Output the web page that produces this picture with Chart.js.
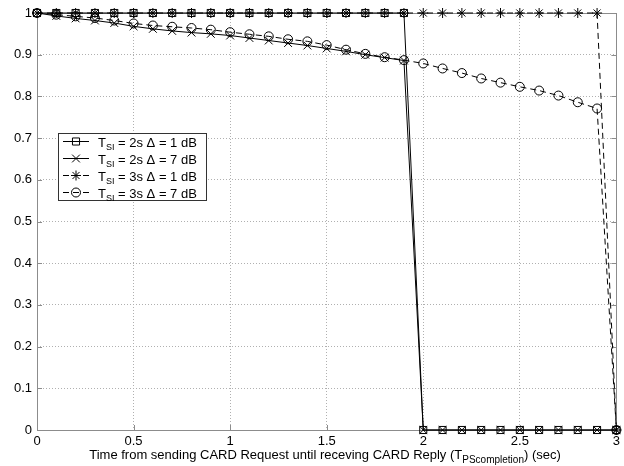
<!DOCTYPE html>
<html>
<head>
<meta charset="utf-8">
<script src="https://cdn.jsdelivr.net/npm/chart.js@4.4.0/dist/chart.umd.min.js"></script>
<style>
  html, body { margin: 0; padding: 0; background: #fff; }
  canvas { display: block; }
</style>
</head>
<body>
<canvas id="chart" width="624" height="466"></canvas>
<script>
// time axis (sec)
const timeValues = [0, 0.1, 0.2, 0.3, 0.4, 0.5, 0.6, 0.7, 0.8, 0.9, 1.0,
    1.1, 1.2, 1.3, 1.4, 1.5, 1.6, 1.7, 1.8, 1.9, 2.0,
    2.1, 2.2, 2.3, 2.4, 2.5, 2.6, 2.7, 2.8, 2.9, 3.0];

// T_SI = 2s, delta = 1 dB
const tsi2d1 = [1, 1, 1, 1, 1, 1, 1, 1, 1, 1, 1,
    1, 1, 1, 1, 1, 1, 1, 1, 1, 0,
    0, 0, 0, 0, 0, 0, 0, 0, 0, 0];

// T_SI = 2s, delta = 7 dB
const tsi2d7 = [1, 0.993, 0.987, 0.982, 0.976, 0.968, 0.962, 0.957, 0.953, 0.950, 0.946,
    0.940, 0.934, 0.928, 0.922, 0.915, 0.908, 0.900, 0.893, 0.886, 0,
    0, 0, 0, 0, 0, 0, 0, 0, 0, 0];

// T_SI = 3s, delta = 1 dB
const tsi3d1 = [1, 1, 1, 1, 1, 1, 1, 1, 1, 1, 1,
    1, 1, 1, 1, 1, 1, 1, 1, 1, 1,
    1, 1, 1, 1, 1, 1, 1, 1, 1, 0];

// T_SI = 3s, delta = 7 dB
const tsi3d7 = [1, 0.996, 0.992, 0.988, 0.982, 0.975, 0.970, 0.967, 0.964, 0.960, 0.954,
    0.949, 0.944, 0.937, 0.932, 0.923, 0.912, 0.902, 0.894, 0.887, 0.879,
    0.867, 0.856, 0.843, 0.833, 0.823, 0.814, 0.802, 0.786, 0.771, 0];

const xTicks = [0, 0.5, 1, 1.5, 2, 2.5, 3];
const yTicks = [0, 0.1, 0.2, 0.3, 0.4, 0.5, 0.6, 0.7, 0.8, 0.9, 1];

const legendLabels = [
    { sub: 'SI', text: ' = 2s \u0394 = 1 dB' },
    { sub: 'SI', text: ' = 2s \u0394 = 7 dB' },
    { sub: 'SI', text: ' = 3s \u0394 = 1 dB' },
    { sub: 'SI', text: ' = 3s \u0394 = 7 dB' }
];

const FONT = '"Liberation Sans", Arial, Helvetica, sans-serif';

function toPoints(values) {
    return values.map((v, i) => ({ x: timeValues[i], y: v }));
}

function makeSeries(label, values, style, radius, dashed) {
    return {
        label: label,
        data: toPoints(values),
        borderColor: '#000',
        backgroundColor: 'rgba(0,0,0,0)',
        borderWidth: 1,
        borderDash: dashed ? [6, 4] : [],
        pointStyle: style,
        pointRadius: radius,
        pointBorderColor: '#000',
        pointBackgroundColor: 'rgba(0,0,0,0)',
        pointBorderWidth: 1,
        tension: 0,
        clip: false
    };
}

// box, inner tick marks (matlab style)
const framePlugin = {
    id: 'frame',
    beforeDatasetsDraw(chart) {
        const ctx = chart.ctx;
        const a = chart.chartArea;
        const xs = chart.scales.x;
        const ys = chart.scales.y;
        ctx.save();
        ctx.strokeStyle = '#8c8c8c';
        ctx.lineWidth = 1;
        ctx.setLineDash([]);
        ctx.strokeRect(Math.round(a.left) + 0.5, Math.round(a.top) + 0.5,
            Math.round(a.right - a.left), Math.round(a.bottom - a.top));
        ctx.beginPath();
        xTicks.forEach(t => {
            const px = Math.round(xs.getPixelForValue(t)) + 0.5;
            ctx.moveTo(px, a.bottom); ctx.lineTo(px, a.bottom - 5);
            ctx.moveTo(px, a.top); ctx.lineTo(px, a.top + 5);
        });
        yTicks.forEach(t => {
            const py = Math.round(ys.getPixelForValue(t)) + 0.5;
            ctx.moveTo(a.left, py); ctx.lineTo(a.left + 5, py);
            ctx.moveTo(a.right, py); ctx.lineTo(a.right - 5, py);
        });
        ctx.stroke();
        ctx.restore();
    },
    afterDraw(chart) {
        const ctx = chart.ctx;
        ctx.save();

        // legend
        const bx = 58, by = 133, bw = 148, bh = 67;
        ctx.fillStyle = '#fff';
        ctx.fillRect(bx, by, bw, bh);
        ctx.strokeStyle = '#333';
        ctx.lineWidth = 1;
        ctx.strokeRect(bx + 0.5, by + 0.5, bw, bh);

        chart.data.datasets.forEach((ds, i) => {
            const y = by + 8.5 + i * 17;
            ctx.strokeStyle = '#000';
            ctx.lineWidth = 1;
            ctx.setLineDash(ds.borderDash);
            ctx.beginPath();
            ctx.moveTo(63, y);
            ctx.lineTo(89, y);
            ctx.stroke();
            ctx.setLineDash([]);
            ctx.fillStyle = 'rgba(0,0,0,0)';
            Chart.helpers.drawPoint(ctx, {
                pointStyle: ds.pointStyle,
                radius: ds.pointRadius,
                borderWidth: 1,
                rotation: 0
            }, 76, y);

            const lab = legendLabels[i];
            let tx = 98;
            ctx.fillStyle = '#000';
            ctx.textBaseline = 'alphabetic';
            ctx.textAlign = 'left';
            ctx.font = '13px ' + FONT;
            ctx.fillText('T', tx, y + 5);
            tx += ctx.measureText('T').width;
            ctx.font = '9px ' + FONT;
            ctx.fillText(lab.sub, tx, y + 8);
            tx += ctx.measureText(lab.sub).width;
            ctx.font = '13px ' + FONT;
            ctx.fillText(lab.text, tx, y + 5);
        });

        // x axis title with subscript
        const p1 = 'Time from sending CARD Request until receving CARD Reply (T';
        const sub = 'PScompletion';
        const p2 = ') (sec)';
        ctx.font = '13px ' + FONT;
        const w1 = ctx.measureText(p1).width;
        const w3 = ctx.measureText(p2).width;
        ctx.font = '10px ' + FONT;
        const w2 = ctx.measureText(sub).width;
        let x0 = 325 - (w1 + w2 + w3) / 2;
        const base = 459;
        ctx.fillStyle = '#000';
        ctx.textAlign = 'left';
        ctx.textBaseline = 'alphabetic';
        ctx.font = '13px ' + FONT;
        ctx.fillText(p1, x0, base);
        ctx.font = '10px ' + FONT;
        ctx.fillText(sub, x0 + w1, base + 4);
        ctx.font = '13px ' + FONT;
        ctx.fillText(p2, x0 + w1 + w2, base);

        ctx.restore();
    }
};

const ctx = document.getElementById('chart').getContext('2d');
new Chart(ctx, {
    type: 'line',
    data: {
        datasets: [
            makeSeries('T_SI = 2s, 1 dB', tsi2d1, 'rect', 5, false),
            makeSeries('T_SI = 2s, 7 dB', tsi2d7, 'crossRot', 5.5, false),
            makeSeries('T_SI = 3s, 1 dB', tsi3d1, 'star', 5, true),
            makeSeries('T_SI = 3s, 7 dB', tsi3d7, 'circle', 4.5, true)
        ]
    },
    options: {
        responsive: false,
        devicePixelRatio: 1,
        animation: false,
        layout: { padding: { top: 13, right: 6, left: 0, bottom: 0 } },
        plugins: {
            legend: { display: false },
            tooltip: { enabled: false }
        },
        scales: {
            x: {
                type: 'linear',
                min: 0,
                max: 3,
                afterBuildTicks: scale => { scale.ticks = xTicks.map(v => ({ value: v })); },
                afterFit: scale => { scale.height = 36; },
                ticks: {
                    color: '#000',
                    font: { family: FONT, size: 13 },
                    padding: 4,
                    maxRotation: 0,
                    callback: v => String(v)
                },
                grid: { color: '#b0b0b0', lineWidth: 1, drawTicks: false },
                border: { display: false, dash: [1, 2] }
            },
            y: {
                min: 0,
                max: 1,
                afterBuildTicks: scale => { scale.ticks = yTicks.map(v => ({ value: v })); },
                afterFit: scale => { scale.width = 37; },
                ticks: {
                    color: '#000',
                    font: { family: FONT, size: 13 },
                    padding: 5,
                    callback: v => String(Number(v.toFixed(1)))
                },
                grid: { color: '#b0b0b0', lineWidth: 1, drawTicks: false },
                border: { display: false, dash: [1, 2] }
            }
        }
    },
    plugins: [framePlugin]
});
</script>
</body>
</html>
